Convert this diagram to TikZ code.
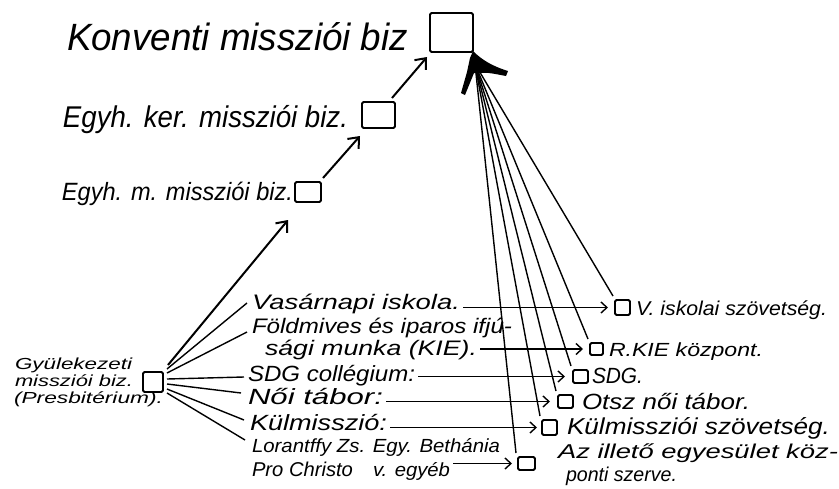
\documentclass[tikz,border=0pt]{standalone}
\usepackage{fontspec}
\usepackage{graphicx}
\setmainfont{Liberation Sans}
\usetikzlibrary{arrows.meta,calc}
\newcommand{\lb}[3]{{\fontsize{#1}{#1}\selectfont\itshape\resizebox{#2pt}{\height}{#3}}}
\begin{document}
\begin{tikzpicture}[x=1pt,y=-1pt,
  lab/.style={inner sep=0pt, outer sep=0pt, anchor=base west},
  bx/.style={draw, line width=1.8pt, rounded corners=1.5pt, inner sep=0pt, outer sep=0pt, rectangle},
  fan/.style={line width=1.4pt},
  harr/.style={line width=1.4pt, -{Straight Barb[length=6pt,width=11pt]}},
  bigarr/.style={line width=2pt, -{Straight Barb[length=9pt,width=15pt]}},
]
\useasboundingbox (0,0) rectangle (839,488);

% boxes
\node[bx, minimum width=43pt, minimum height=39pt] (kon) at (451.5,32.5) {};
\node[bx, minimum width=33pt, minimum height=26pt] (ker) at (378.5,115) {};
\node[bx, minimum width=26pt, minimum height=20pt] (em) at (308,192) {};
\node[bx, minimum width=20pt, minimum height=20pt] (gy) at (153,382) {};
\node[bx, minimum width=15pt, minimum height=15pt] (rv) at (622.5,307.5) {};
\node[bx, minimum width=13pt, minimum height=12pt] (rk) at (596.5,349) {};
\node[bx, minimum width=15pt, minimum height=13pt] (rs) at (580.5,376.5) {};
\node[bx, minimum width=15pt, minimum height=13pt] (ro) at (565.5,401.5) {};
\node[bx, minimum width=15pt, minimum height=15pt] (rm) at (549.5,427.5) {};
\node[bx, minimum width=17pt, minimum height=13pt] (rb) at (526.5,463.5) {};

% titles
\node[lab] (tkon) at (67,50) {\lb{38}{341}{Konventi missziói biz}};
\node[lab] (tker) at (63,127) {\lb{30}{285}{Egyh. ker. missziói biz.}};
\node[lab] (tem) at (62,200) {\lb{25}{231}{Egyh. m. missziói biz.}};

% Gyulekezeti
\node[lab] (g1) at (15,369) {\lb{16}{117}{Gyülekezeti}};
\node[lab] (g2) at (15,386) {\lb{16}{118}{missziói biz.}};
\node[lab] (g3) at (14,403) {\lb{16}{149}{(Presbitérium).}};

% left labels
\node[lab] (lv) at (252,309) {\lb{21}{208}{Vasárnapi iskola.}};
\node[lab] (lf) at (252,333) {\lb{21}{260}{Földmives és iparos ifjú-}};
\node[lab] (lk) at (265,355) {\lb{21}{212}{sági munka (KIE).}};
\node[lab] (ls) at (248,381) {\lb{22}{167}{SDG collégium:}};
\node[lab] (lnn) at (248,404) {\lb{22}{135}{Női tábor:}};
\node[lab] (lm) at (250,430) {\lb{22}{137}{Külmisszió:}};
\node[lab] (ll) at (252,452) {\lb{19}{248}{Lorantffy Zs. Egy. Bethánia}};
\node[lab] (lp) at (252,476) {\lb{20}{101}{Pro Christo}};
\node[lab] (le) at (373,476) {\lb{19}{77}{v. egyéb}};

% right labels
\node[lab] (tv) at (636,315) {\lb{20}{191}{V. iskolai szövetség.}};
\node[lab] (tk) at (609,356) {\lb{19}{154}{R.KIE központ.}};
\node[lab] (ts) at (592,383) {\lb{22}{51}{SDG.}};
\node[lab] (to) at (582,409) {\lb{22}{168}{Otsz női tábor.}};
\node[lab] (tm) at (567,434) {\lb{23}{263}{Külmissziói szövetség.}};
\node[lab] (ta) at (558,458) {\lb{20}{280}{Az illető egyesület köz-}};
\node[lab] (tb) at (566,481) {\lb{20}{111}{ponti szerve.}};

% upward arrows
\draw[bigarr] ($(gy.east)+(5,-17)$) -- ([shift={(-7,18)}]em.south west);
\draw[bigarr] ([shift={(2,-4)}]em.north east) -- ([shift={(-2,8)}]ker.south west);
\draw[bigarr] ([shift={(-3,-4)}]ker.north east) -- ([shift={(-3,5)}]kon.south west);

% fan from Gyulekezeti
\draw[fan] ($(gy.east)+(4,-13)$) -- ([shift={(-5,-6)}]lv.base west);
\draw[fan] ($(gy.east)+(4,-9)$) -- ([shift={(-5,-1)}]lf.base west);
\draw[fan] ($(gy.east)+(4,-3)$) -- ([shift={(-4,-4)}]ls.base west);
\draw[fan] ($(gy.east)+(4,2)$) -- ([shift={(-7,-11)}]lnn.base west);
\draw[fan] ($(gy.east)+(4,7)$) -- ([shift={(-6,-10)}]lm.base west);
\draw[fan] ($(gy.east)+(4,11)$) -- ([shift={(-7,-12)}]ll.base west);

% horizontal arrows
\draw[harr, shorten <=3pt, shorten >=7pt] (lv.east |- rv.west) -- (rv.west);
\draw[harr, shorten <=3pt, shorten >=7pt] (lk.east |- rk.west) -- (rk.west);
\draw[harr, shorten <=3pt, shorten >=8pt] (ls.east |- rs.west) -- (rs.west);
\draw[harr, shorten <=3pt, shorten >=8pt] (lnn.east |- ro.west) -- (ro.west);
\draw[harr, shorten <=3pt, shorten >=5pt] (lm.east |- rm.west) -- (rm.west);
\draw[harr, shorten <=3pt, shorten >=6pt] (le.east |- rb.west) -- (rb.west);

% fan to Konventi
\coordinate (conv) at (475,64);
\foreach \b in {rv,rk,rs,ro,rm,rb}
  \draw[fan] (conv) -- ([shift={(-2,-4)}]\b.north west);
\fill (473,51) .. controls (482,60) and (492,66) .. (508,71) -- (506,76)
  .. controls (495,74) and (487,72) .. (480,73) -- (474,73) -- (465,95)
  -- (461,93) -- (467,72) -- (470,58) -- cycle;
\end{tikzpicture}
\end{document}
